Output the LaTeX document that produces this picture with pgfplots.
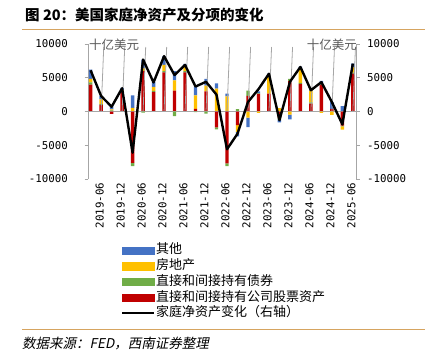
\documentclass[border=0pt]{standalone}
\usepackage{fontspec}
\usepackage{pgfplots}
\usepackage{pgfplotstable}
\pgfplotsset{compat=1.18}
\setmainfont{Noto Sans CJK SC}
\setmonofont{DejaVu Sans Mono}
\newfontfamily\slantcjk{Noto Sans CJK SC}[FakeSlant=0.2]

\definecolor{cRed}{RGB}{192,0,0}
\definecolor{cGreen}{RGB}{112,173,71}
\definecolor{cYellow}{RGB}{255,192,0}
\definecolor{cBlue}{RGB}{68,114,196}
\definecolor{cAxis}{RGB}{166,166,166}
\definecolor{cRule}{RGB}{214,164,96}
\definecolor{cUnit}{RGB}{89,89,89}

\pgfplotstableread{
i red green yellow blue net
0 4000 300 550 1350 6100
1 1000 100 700 500 2300
2 -350 150 150 450 700
3 2900 100 200 300 3450
4 -7600 -500 550 1850 -6100
5 6000 -150 400 1300 7700
6 2900 150 600 700 4300
7 5800 200 900 1300 8200
8 3100 -700 1500 1400 5400
9 5800 200 750 300 6900
10 400 -100 2000 1300 3700
11 3000 -300 850 1000 4400
12 -2350 -300 3400 750 2500
13 -7700 -400 2250 400 -5600
14 -2000 350 -1000 -700 -3300
15 2300 800 -900 -1400 1400
16 2600 100 -200 300 3300
17 2650 0 2600 350 5600
18 -950 -200 500 -450 -1300
19 4500 350 -450 -700 4400
20 4100 150 2100 300 6600
21 1150 200 1750 100 3150
22 4000 150 -200 400 4350
23 400 0 -500 1000 1400
24 -2100 -100 -500 800 -1900
25 5600 150 800 550 7100
}\hh

\pgfplotsset{
  base/.style={at={(88bp,-179bp)}, anchor=south west, scale only axis,
    width=268bp, height=135bp, xmin=-0.25, xmax=25.3, ymin=-10000, ymax=10000,
    scaled y ticks=false, scaled x ticks=false},
  barsty/.style={ybar stacked, bar width=3.4bp},
  swatch/.style={legend image code/.code={\fill[#1] (0bp,-3.6bp) rectangle (32bp,3.6bp);}},
}
\newcommand{\tickfont}{\ttfamily\fontsize{10.8bp}{12bp}\selectfont}

\begin{document}
\begin{tikzpicture}
\path[use as bounding box] (0bp,0bp) rectangle (439bp,-363bp);

% positive parts + left axis + x labels
\begin{axis}[base, barsty,
  axis x line*=bottom, x axis line style={draw=none},
  xtick={0,2,...,24},
  xticklabels={2019-06,2019-12,2020-06,2020-12,2021-06,2021-12,2022-06,2022-12,2023-06,2023-12,2024-06,2024-12,2025-06},
  xtick style={draw=none},
  xticklabel style={font=\tickfont, rotate=90, anchor=east, inner sep=0pt, yshift=-9bp},
  axis y line*=left, y axis line style={cAxis, line width=0.8bp},
  ytick={-10000,-5000,0,5000,10000},
  yticklabels={-10000,-5000,0,5000,10000},
  ytick style={cAxis, line width=0.8bp}, tick align=outside, major tick length=3.5bp,
  yticklabel style={font=\tickfont, anchor=east, inner sep=0pt, xshift=-16.5bp},
]
\draw[cAxis, line width=0.8bp] (axis cs:-0.25,0) -- (axis cs:25.3,0);
\pgfplotsinvokeforeach{1,3,5,7,9,11,13,15,17,19,21,23,25}{\draw[cAxis, line width=0.8bp] (axis cs:#1,0) -- ++(0,-3bp);}
\addplot[fill=cRed, draw=none] table[x=i, y expr={max(\thisrow{red},0)}]{\hh};
\addplot[fill=cGreen, draw=none] table[x=i, y expr={max(\thisrow{green},0)}]{\hh};
\addplot[fill=cYellow, draw=none] table[x=i, y expr={max(\thisrow{yellow},0)}]{\hh};
\addplot[fill=cBlue, draw=none] table[x=i, y expr={max(\thisrow{blue},0)}]{\hh};
\end{axis}

% negative parts
\begin{axis}[base, barsty, hide axis]
\addplot[fill=cRed, draw=none] table[x=i, y expr={min(\thisrow{red},0)}]{\hh};
\addplot[fill=cGreen, draw=none] table[x=i, y expr={min(\thisrow{green},0)}]{\hh};
\addplot[fill=cYellow, draw=none] table[x=i, y expr={min(\thisrow{yellow},0)}]{\hh};
\addplot[fill=cBlue, draw=none] table[x=i, y expr={min(\thisrow{blue},0)}]{\hh};
\end{axis}

% line + right axis + legend
\begin{axis}[base,
  axis x line=none,
  axis y line*=right, y axis line style={cAxis, line width=0.8bp},
  ytick={-10000,-5000,0,5000,10000},
  yticklabels={-10000,-5000,0,5000,10000},
  ytick style={cAxis, line width=0.8bp}, tick align=outside, major tick length=3.5bp,
  yticklabel style={font=\tickfont, anchor=west, inner sep=0pt, xshift=7.5bp},
  legend style={at={(0.123,-0.474)}, anchor=north west, draw=none, fill=none,
    inner sep=0pt, font=\fontsize{13bp}{15bp}\selectfont, row sep=1.2bp,
    nodes={inner sep=1bp, text height=9.8bp, text depth=2.7bp}},
  legend cell align=left,
]
\addlegendimage{swatch=cBlue}
\addlegendentry{其他}
\addlegendimage{swatch=cYellow}
\addlegendentry{房地产}
\addlegendimage{swatch=cGreen}
\addlegendentry{直接和间接持有债券}
\addlegendimage{swatch=cRed}
\addlegendentry{直接和间接持有公司股票资产}
\addlegendimage{legend image code/.code={\draw[black, line width=2bp] (0bp,0bp) -- (32bp,0bp);}}
\addlegendentry{家庭净资产变化（右轴）}
\addplot[black, line width=2.4bp, line join=round, mark=none, forget plot] table[x=i, y=net]{\hh};
\end{axis}

% unit labels
\node[anchor=west, inner sep=0pt, text=cUnit, font=\fontsize{12.5bp}{14bp}\selectfont] at (89bp,-45bp) {十亿美元};
\node[anchor=east, inner sep=0pt, text=cUnit, font=\fontsize{12.5bp}{14bp}\selectfont] at (357bp,-45bp) {十亿美元};

% title, rules, source
\node[anchor=west, inner sep=0pt, font=\bfseries\fontsize{14.5bp}{17bp}\selectfont] at (25bp,-15bp) {图 20：美国家庭净资产及分项的变化};
\draw[cRule, line width=1.5bp] (22bp,-29.5bp) -- (425bp,-29.5bp);
\draw[cRule, line width=1.5bp] (22bp,-329.5bp) -- (425bp,-329.5bp);
\node[anchor=west, inner sep=0pt, font=\slantcjk\fontsize{13.5bp}{16bp}\selectfont] at (22bp,-344bp) {数据来源：FED，西南证券整理};
\end{tikzpicture}
\end{document}
